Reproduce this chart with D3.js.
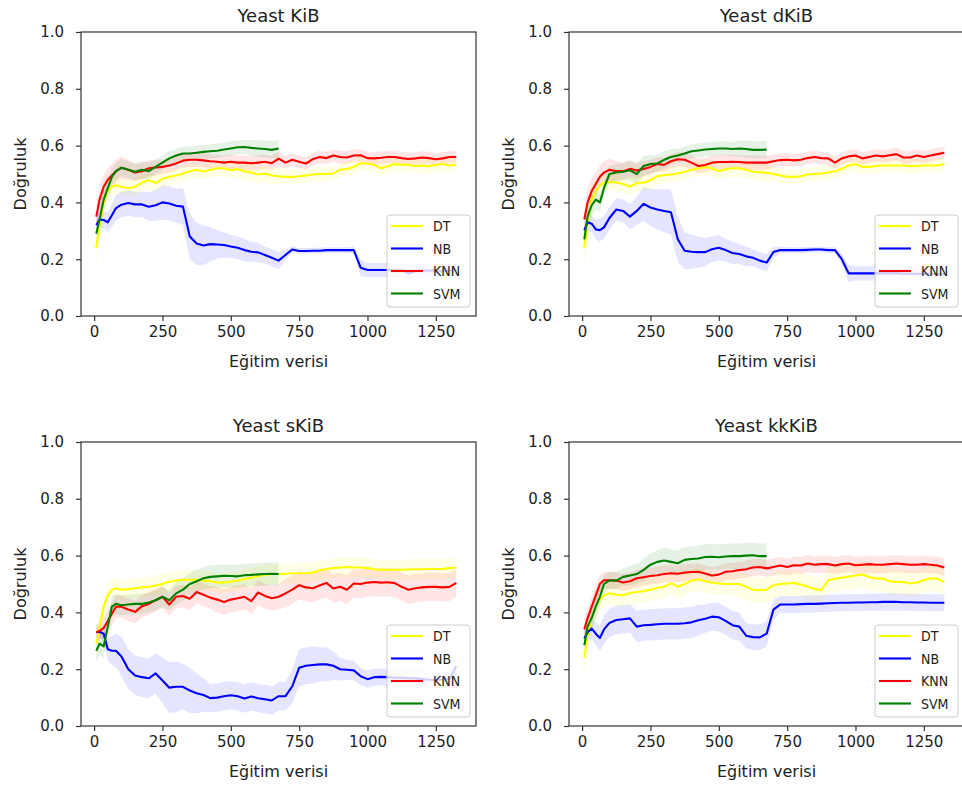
<!DOCTYPE html>
<html>
<head>
<meta charset="utf-8">
<script src="https://cdn.jsdelivr.net/npm/d3@7"></script>
<style>
  body { margin: 0; background: #fff; }
  svg text { font-family: "DejaVu Sans", sans-serif; fill: #222; }
  .lejant text { font-stretch: condensed; font-family: "DejaVu Sans Condensed", "DejaVu Sans", sans-serif; }
</style>
</head>
<body>
<svg id="grafik" width="962" height="789"></svg>
<script>
// eğitim verisi miktarı (x ekseni)
const egitim = [8, 20, 35, 50, 65, 80, 100, 125, 150, 175, 200, 225, 250, 275, 300, 325, 350, 375, 400, 425,
  450, 475, 500, 525, 550, 575, 600, 625, 650, 675, 700, 725, 750, 775, 800, 825, 850, 875, 900, 925,
  950, 975, 1000, 1025, 1050, 1075, 1100, 1125, 1150, 1175, 1200, 1225, 1250, 1275, 1300, 1325];

const modeller = ["DT", "NB", "KNN", "SVM"];
const renkler = ["#ffff00", "#0000ff", "#ff0000", "#008000"];
const basliklar = ["Yeast KiB", "Yeast dKiB", "Yeast sKiB", "Yeast kkKiB"];
const xTikler = [0, 250, 500, 750, 1000, 1250];
const yTikler = [0, 0.2, 0.4, 0.6, 0.8, 1.0];

// Yeast KiB
const kibDT = [0.24, 0.32, 0.40, 0.44, 0.455, 0.46,
  0.455, 0.45, 0.455, 0.47, 0.478, 0.468, 0.483, 0.49, 0.495, 0.502, 0.51, 0.515, 0.508, 0.515, 0.52, 0.52, 0.513, 0.518, 0.51, 0.505, 0.498, 0.502, 0.495, 0.492,
  0.49, 0.49, 0.492, 0.495, 0.498, 0.5, 0.5, 0.502, 0.515, 0.518, 0.525, 0.538, 0.537, 0.532, 0.52, 0.527, 0.535, 0.533, 0.532, 0.528, 0.53, 0.527, 0.532, 0.535, 0.53, 0.532];
const kibNB = [0.32, 0.34, 0.338, 0.33, 0.355, 0.38,
  0.392, 0.398, 0.393, 0.393, 0.385, 0.39, 0.4, 0.396, 0.388, 0.385, 0.28, 0.255, 0.248, 0.253, 0.252, 0.25, 0.245, 0.24, 0.232, 0.226, 0.224, 0.215, 0.205, 0.195,
  0.215, 0.234, 0.229, 0.229, 0.23, 0.23, 0.232, 0.232, 0.232, 0.232, 0.232, 0.17, 0.162, 0.162, 0.162, 0.162, 0.16, 0.162, 0.15, 0.158, 0.16, 0.16, 0.16, 0.158, 0.16, 0.16];
const kibKNN = [0.35, 0.41, 0.455, 0.48, 0.495, 0.51,
  0.522, 0.515, 0.505, 0.51, 0.52, 0.523, 0.525, 0.53, 0.537, 0.547, 0.55, 0.55, 0.548, 0.545, 0.543, 0.54, 0.543, 0.54, 0.54, 0.538, 0.54, 0.543, 0.538, 0.554,
  0.54, 0.55, 0.543, 0.537, 0.552, 0.56, 0.556, 0.565, 0.56, 0.558, 0.565, 0.566, 0.556, 0.555, 0.557, 0.56, 0.56, 0.556, 0.553, 0.555, 0.558, 0.556, 0.552, 0.555, 0.56, 0.56];
const kibSVM = [0.29, 0.34, 0.41, 0.45, 0.49, 0.51,
  0.522, 0.515, 0.508, 0.515, 0.51, 0.525, 0.54, 0.555, 0.565, 0.572, 0.572, 0.575, 0.578, 0.58, 0.582, 0.586, 0.59, 0.594, 0.595, 0.592, 0.59, 0.588, 0.585, 0.59];
const kibDTstd = [0.06, 0.05, 0.045, 0.04, 0.035, 0.03,
  0.03, 0.03, 0.03, 0.03, 0.03, 0.03, 0.03, 0.03, 0.028, 0.028, 0.028, 0.028, 0.028, 0.028, 0.028, 0.028, 0.028, 0.03, 0.03, 0.03, 0.03, 0.03, 0.03, 0.03,
  0.025, 0.025, 0.025, 0.025, 0.025, 0.025, 0.025, 0.025, 0.025, 0.025, 0.025, 0.025, 0.025, 0.025, 0.025, 0.025, 0.025, 0.025, 0.025, 0.025, 0.025, 0.025, 0.025, 0.025, 0.025, 0.025];
const kibNBstd = [0.03, 0.03, 0.03, 0.035, 0.04, 0.045,
  0.045, 0.045, 0.045, 0.045, 0.05, 0.055, 0.06, 0.06, 0.06, 0.065, 0.08, 0.075, 0.07, 0.06, 0.05, 0.045, 0.04, 0.04, 0.04, 0.035, 0.035, 0.03, 0.03, 0.03,
  0.02, 0.012, 0.01, 0.01, 0.01, 0.01, 0.01, 0.01, 0.01, 0.01, 0.012, 0.03, 0.025, 0.025, 0.025, 0.025, 0.025, 0.025, 0.025, 0.025, 0.025, 0.025, 0.025, 0.025, 0.025, 0.025];
const kibKNNstd = [0.04, 0.045, 0.045, 0.04, 0.04, 0.04,
  0.04, 0.035, 0.03, 0.03, 0.028, 0.028, 0.025, 0.025, 0.025, 0.025, 0.025, 0.025, 0.025, 0.025, 0.025, 0.025, 0.025, 0.025, 0.025, 0.025, 0.025, 0.025, 0.025, 0.025,
  0.022, 0.022, 0.022, 0.022, 0.022, 0.022, 0.022, 0.022, 0.022, 0.022, 0.022, 0.022, 0.022, 0.022, 0.022, 0.022, 0.022, 0.022, 0.022, 0.022, 0.022, 0.022, 0.022, 0.022, 0.022, 0.022];
const kibSVMstd = [0.04, 0.04, 0.04, 0.035, 0.03, 0.03,
  0.03, 0.03, 0.03, 0.03, 0.03, 0.025, 0.025, 0.025, 0.025, 0.025, 0.025, 0.025, 0.025, 0.025, 0.025, 0.025, 0.025, 0.025, 0.025, 0.028, 0.03, 0.03, 0.03, 0.03];

// Yeast dKiB
const dkibDT = [0.24, 0.33, 0.41, 0.44, 0.46, 0.47,
  0.472, 0.47, 0.465, 0.455, 0.468, 0.47, 0.478, 0.492, 0.496, 0.498, 0.502, 0.508, 0.515, 0.52, 0.525, 0.52, 0.51, 0.517, 0.52, 0.52, 0.515, 0.508, 0.506, 0.504,
  0.5, 0.495, 0.49, 0.49, 0.492, 0.498, 0.5, 0.502, 0.505, 0.51, 0.518, 0.53, 0.535, 0.525, 0.525, 0.528, 0.53, 0.53, 0.53, 0.53, 0.528, 0.528, 0.53, 0.53, 0.53, 0.535];
const dkibNB = [0.302, 0.33, 0.325, 0.305, 0.302, 0.312,
  0.345, 0.375, 0.37, 0.35, 0.37, 0.395, 0.382, 0.375, 0.37, 0.365, 0.27, 0.23, 0.226, 0.225, 0.225, 0.235, 0.24, 0.232, 0.222, 0.218, 0.21, 0.205, 0.195, 0.188,
  0.225, 0.232, 0.232, 0.232, 0.232, 0.233, 0.234, 0.234, 0.232, 0.232, 0.2, 0.15, 0.15, 0.15, 0.15, 0.15, 0.15, 0.15, 0.15, 0.149, 0.149, 0.149, 0.148, 0.148, 0.148, 0.148];
const dkibKNN = [0.34, 0.4, 0.44, 0.465, 0.49, 0.505,
  0.515, 0.51, 0.51, 0.518, 0.512, 0.518, 0.525, 0.535, 0.532, 0.545, 0.552, 0.55, 0.54, 0.528, 0.532, 0.54, 0.542, 0.542, 0.543, 0.542, 0.54, 0.54, 0.54, 0.54,
  0.545, 0.549, 0.55, 0.548, 0.55, 0.556, 0.56, 0.556, 0.555, 0.54, 0.555, 0.562, 0.565, 0.555, 0.56, 0.565, 0.562, 0.566, 0.57, 0.558, 0.558, 0.565, 0.56, 0.565, 0.57, 0.575];
const dkibSVM = [0.27, 0.35, 0.39, 0.41, 0.4, 0.45,
  0.5, 0.505, 0.508, 0.513, 0.5, 0.528, 0.535, 0.537, 0.55, 0.56, 0.565, 0.572, 0.58, 0.583, 0.586, 0.588, 0.59, 0.59, 0.588, 0.59, 0.588, 0.585, 0.585, 0.586];
const dkibDTstd = [0.06, 0.05, 0.045, 0.04, 0.035, 0.03,
  0.03, 0.03, 0.03, 0.03, 0.03, 0.03, 0.03, 0.03, 0.028, 0.028, 0.028, 0.028, 0.028, 0.028, 0.028, 0.028, 0.028, 0.03, 0.03, 0.03, 0.03, 0.03, 0.03, 0.03,
  0.025, 0.025, 0.025, 0.025, 0.025, 0.025, 0.025, 0.025, 0.025, 0.025, 0.025, 0.025, 0.025, 0.025, 0.025, 0.025, 0.025, 0.025, 0.025, 0.025, 0.025, 0.025, 0.025, 0.025, 0.025, 0.025];
const dkibNBstd = [0.03, 0.03, 0.03, 0.035, 0.04, 0.04,
  0.04, 0.04, 0.04, 0.045, 0.05, 0.06, 0.065, 0.07, 0.075, 0.08, 0.08, 0.065, 0.06, 0.055, 0.05, 0.045, 0.045, 0.04, 0.04, 0.035, 0.035, 0.03, 0.03, 0.03,
  0.02, 0.012, 0.01, 0.01, 0.01, 0.01, 0.01, 0.01, 0.01, 0.01, 0.02, 0.03, 0.025, 0.025, 0.025, 0.025, 0.025, 0.025, 0.025, 0.025, 0.025, 0.025, 0.025, 0.025, 0.025, 0.025];
const dkibKNNstd = [0.04, 0.045, 0.045, 0.04, 0.04, 0.04,
  0.04, 0.035, 0.03, 0.03, 0.028, 0.028, 0.025, 0.025, 0.025, 0.025, 0.025, 0.025, 0.025, 0.025, 0.025, 0.025, 0.025, 0.025, 0.025, 0.025, 0.025, 0.025, 0.025, 0.025,
  0.022, 0.022, 0.022, 0.022, 0.022, 0.022, 0.022, 0.022, 0.022, 0.022, 0.022, 0.022, 0.022, 0.022, 0.022, 0.022, 0.022, 0.022, 0.022, 0.022, 0.022, 0.022, 0.022, 0.022, 0.022, 0.022];
const dkibSVMstd = [0.04, 0.04, 0.04, 0.035, 0.03, 0.03,
  0.03, 0.03, 0.03, 0.035, 0.035, 0.035, 0.03, 0.03, 0.03, 0.028, 0.025, 0.025, 0.025, 0.025, 0.025, 0.025, 0.025, 0.025, 0.025, 0.028, 0.03, 0.03, 0.03, 0.03];

// Yeast sKiB
const skibDT = [0.29, 0.35, 0.42, 0.46, 0.48, 0.485,
  0.48, 0.482, 0.485, 0.488, 0.49, 0.495, 0.5, 0.508, 0.512, 0.515, 0.515, 0.515, 0.512, 0.51, 0.505, 0.505, 0.508, 0.512, 0.518, 0.522, 0.528, 0.532, 0.535, 0.535,
  0.536, 0.538, 0.538, 0.538, 0.54, 0.548, 0.553, 0.556, 0.558, 0.56, 0.558, 0.558, 0.556, 0.552, 0.55, 0.55, 0.55, 0.55, 0.551, 0.552, 0.552, 0.553, 0.553, 0.553, 0.556, 0.558];
const skibNB = [0.33, 0.332, 0.325, 0.27, 0.265, 0.265,
  0.245, 0.2, 0.178, 0.172, 0.168, 0.185, 0.16, 0.135, 0.138, 0.138, 0.125, 0.115, 0.109, 0.098, 0.1, 0.105, 0.108, 0.105, 0.097, 0.104, 0.098, 0.094, 0.09, 0.105,
  0.105, 0.14, 0.205, 0.212, 0.215, 0.217, 0.217, 0.212, 0.2, 0.198, 0.196, 0.175, 0.165, 0.172, 0.173, 0.172, 0.17, 0.17, 0.168, 0.168, 0.165, 0.163, 0.162, 0.163, 0.165, 0.21];
const skibKNN = [0.33, 0.335, 0.345, 0.37, 0.395, 0.42,
  0.42, 0.41, 0.402, 0.422, 0.43, 0.443, 0.455, 0.428, 0.455, 0.458, 0.448, 0.472, 0.462, 0.452, 0.445, 0.437, 0.445, 0.45, 0.455, 0.44, 0.47, 0.458, 0.45, 0.455,
  0.467, 0.48, 0.496, 0.488, 0.485, 0.495, 0.504, 0.484, 0.49, 0.48, 0.502, 0.5, 0.505, 0.507, 0.505, 0.506, 0.503, 0.49, 0.48, 0.485, 0.488, 0.49, 0.49, 0.488, 0.49, 0.504];
const skibSVM = [0.265, 0.29, 0.28, 0.35, 0.42, 0.43,
  0.425, 0.428, 0.43, 0.43, 0.435, 0.443, 0.455, 0.443, 0.467, 0.48, 0.5, 0.51, 0.52, 0.525, 0.527, 0.529, 0.528, 0.527, 0.531, 0.532, 0.534, 0.535, 0.536, 0.535];
const skibDTstd = [0.05, 0.05, 0.045, 0.04, 0.035, 0.035,
  0.035, 0.035, 0.035, 0.035, 0.035, 0.035, 0.035, 0.035, 0.035, 0.035, 0.035, 0.035, 0.035, 0.035, 0.035, 0.035, 0.035, 0.035, 0.035, 0.035, 0.035, 0.035, 0.035, 0.035,
  0.035, 0.035, 0.035, 0.035, 0.035, 0.035, 0.035, 0.035, 0.035, 0.035, 0.035, 0.035, 0.035, 0.035, 0.035, 0.035, 0.035, 0.035, 0.035, 0.035, 0.035, 0.035, 0.035, 0.035, 0.035, 0.035];
const skibNBstd = [0.02, 0.02, 0.03, 0.04, 0.05, 0.06,
  0.07, 0.07, 0.07, 0.07, 0.07, 0.07, 0.08, 0.09, 0.09, 0.08, 0.08, 0.07, 0.06, 0.05, 0.05, 0.05, 0.05, 0.05, 0.05, 0.05, 0.05, 0.05, 0.05, 0.05,
  0.05, 0.06, 0.065, 0.065, 0.065, 0.06, 0.06, 0.05, 0.04, 0.035, 0.035, 0.03, 0.03, 0.03, 0.03, 0.03, 0.03, 0.03, 0.03, 0.03, 0.03, 0.03, 0.03, 0.03, 0.03, 0.03];
const skibKNNstd = [0.03, 0.03, 0.035, 0.04, 0.04, 0.04,
  0.04, 0.04, 0.04, 0.04, 0.04, 0.04, 0.04, 0.04, 0.04, 0.04, 0.04, 0.04, 0.04, 0.04, 0.045, 0.045, 0.045, 0.045, 0.045, 0.045, 0.045, 0.045, 0.045, 0.045,
  0.05, 0.05, 0.05, 0.05, 0.05, 0.05, 0.05, 0.05, 0.05, 0.05, 0.05, 0.05, 0.05, 0.05, 0.05, 0.05, 0.05, 0.05, 0.05, 0.05, 0.05, 0.05, 0.05, 0.05, 0.05, 0.05];
const skibSVMstd = [0.04, 0.04, 0.04, 0.035, 0.035, 0.035,
  0.035, 0.035, 0.035, 0.035, 0.035, 0.035, 0.035, 0.035, 0.04, 0.04, 0.04, 0.04, 0.04, 0.04, 0.04, 0.04, 0.04, 0.04, 0.04, 0.04, 0.04, 0.04, 0.04, 0.04];

// Yeast kkKiB
const kkkibDT = [0.24, 0.32, 0.38, 0.42, 0.445, 0.46,
  0.467, 0.462, 0.46, 0.468, 0.472, 0.475, 0.48, 0.487, 0.49, 0.503, 0.49, 0.5, 0.512, 0.516, 0.51, 0.505, 0.502, 0.5, 0.5, 0.5, 0.49, 0.48, 0.478, 0.48,
  0.496, 0.5, 0.502, 0.504, 0.498, 0.49, 0.482, 0.478, 0.513, 0.518, 0.522, 0.526, 0.53, 0.534, 0.525, 0.519, 0.519, 0.51, 0.507, 0.507, 0.502, 0.505, 0.513, 0.52, 0.518, 0.507];
const kkkibNB = [0.308, 0.33, 0.343, 0.325, 0.31, 0.34,
  0.363, 0.373, 0.376, 0.379, 0.35, 0.355, 0.356, 0.358, 0.36, 0.36, 0.36, 0.362, 0.365, 0.372, 0.378, 0.385, 0.383, 0.37, 0.355, 0.35, 0.318, 0.313, 0.312, 0.325,
  0.41, 0.428, 0.428, 0.428, 0.429, 0.43, 0.43, 0.431, 0.432, 0.433, 0.434, 0.434, 0.435, 0.435, 0.436, 0.436, 0.437, 0.437, 0.437, 0.436, 0.436, 0.435, 0.435, 0.434, 0.434, 0.434];
const kkkibKNN = [0.34, 0.38, 0.42, 0.46, 0.5, 0.513,
  0.513, 0.512, 0.505, 0.51, 0.52, 0.524, 0.528, 0.531, 0.535, 0.538, 0.536, 0.54, 0.542, 0.543, 0.537, 0.53, 0.533, 0.543, 0.545, 0.549, 0.552, 0.558, 0.56, 0.555,
  0.56, 0.565, 0.56, 0.566, 0.565, 0.572, 0.568, 0.57, 0.57, 0.565, 0.57, 0.572, 0.566, 0.568, 0.57, 0.568, 0.568, 0.57, 0.572, 0.57, 0.568, 0.568, 0.57, 0.568, 0.565, 0.558];
const kkkibSVM = [0.285, 0.35, 0.38, 0.42, 0.455, 0.5,
  0.513, 0.512, 0.525, 0.53, 0.535, 0.55, 0.568, 0.578, 0.583, 0.578, 0.573, 0.585, 0.588, 0.59, 0.595, 0.596, 0.594, 0.597, 0.598, 0.598, 0.6, 0.601, 0.598, 0.598];
const kkkibDTstd = [0.07, 0.06, 0.05, 0.045, 0.04, 0.04,
  0.04, 0.04, 0.04, 0.04, 0.04, 0.04, 0.04, 0.04, 0.04, 0.04, 0.04, 0.04, 0.04, 0.04, 0.04, 0.04, 0.04, 0.04, 0.04, 0.045, 0.045, 0.045, 0.045, 0.045,
  0.045, 0.045, 0.045, 0.045, 0.045, 0.045, 0.045, 0.045, 0.045, 0.045, 0.045, 0.045, 0.045, 0.045, 0.045, 0.045, 0.045, 0.045, 0.045, 0.045, 0.045, 0.045, 0.045, 0.045, 0.045, 0.045];
const kkkibNBstd = [0.03, 0.03, 0.035, 0.04, 0.045, 0.05,
  0.05, 0.05, 0.05, 0.05, 0.055, 0.055, 0.055, 0.055, 0.055, 0.055, 0.055, 0.055, 0.055, 0.055, 0.05, 0.05, 0.05, 0.05, 0.05, 0.05, 0.045, 0.045, 0.045, 0.045,
  0.035, 0.03, 0.03, 0.03, 0.03, 0.03, 0.03, 0.03, 0.03, 0.03, 0.03, 0.03, 0.03, 0.03, 0.03, 0.03, 0.03, 0.03, 0.03, 0.03, 0.03, 0.03, 0.03, 0.03, 0.03, 0.03];
const kkkibKNNstd = [0.035, 0.035, 0.035, 0.035, 0.03, 0.03,
  0.03, 0.03, 0.03, 0.03, 0.03, 0.03, 0.03, 0.03, 0.03, 0.03, 0.03, 0.03, 0.03, 0.03, 0.03, 0.03, 0.03, 0.03, 0.03, 0.03, 0.03, 0.03, 0.03, 0.03,
  0.03, 0.03, 0.03, 0.03, 0.03, 0.03, 0.03, 0.03, 0.03, 0.03, 0.03, 0.03, 0.03, 0.03, 0.03, 0.03, 0.03, 0.03, 0.03, 0.03, 0.03, 0.03, 0.03, 0.03, 0.03, 0.03];
const kkkibSVMstd = [0.04, 0.04, 0.04, 0.04, 0.035, 0.03,
  0.03, 0.03, 0.03, 0.035, 0.035, 0.04, 0.04, 0.04, 0.045, 0.045, 0.045, 0.045, 0.045, 0.045, 0.045, 0.045, 0.045, 0.045, 0.045, 0.045, 0.045, 0.045, 0.045, 0.045];

// panel tablosu
const paneller = [
  { baslik: basliklar[0], ort: [kibDT, kibNB, kibKNN, kibSVM], std: [kibDTstd, kibNBstd, kibKNNstd, kibSVMstd] },
  { baslik: basliklar[1], ort: [dkibDT, dkibNB, dkibKNN, dkibSVM], std: [dkibDTstd, dkibNBstd, dkibKNNstd, dkibSVMstd] },
  { baslik: basliklar[2], ort: [skibDT, skibNB, skibKNN, skibSVM], std: [skibDTstd, skibNBstd, skibKNNstd, skibSVMstd] },
  { baslik: basliklar[3], ort: [kkkibDT, kkkibNB, kkkibKNN, kkkibSVM], std: [kkkibDTstd, kkkibNBstd, kkkibKNNstd, kkkibSVMstd] }
];

const yerlesim = [
  { x: 81, y: 32 }, { x: 569, y: 32 },
  { x: 81, y: 442 }, { x: 569, y: 442 }
];
const alanW = 395, alanH = 284;

const svg = d3.select("#grafik");

function cizPanel(panel, konum, i) {
  let g = svg.append("g");

  let scX = d3.scaleLinear().domain([-48, 1397]).range([konum.x, konum.x + alanW]);
  let scY = d3.scaleLinear().domain([0, 1]).range([konum.y + alanH, konum.y]);

  // kırpma alanı
  g.append("clipPath").attr("id", "kirp" + i)
    .append("rect")
    .attr("x", konum.x).attr("y", konum.y)
    .attr("width", alanW).attr("height", alanH);

  let icerik = g.append("g").attr("clip-path", `url(#kirp${i})`);

  // std bantları
  panel.ort.forEach((ort, k) => {
    let std = panel.std[k];
    let noktalar = ort.map((v, j) => ({ x: egitim[j], m: v, s: std[j] }));
    let alan = d3.area()
      .x(d => scX(d.x))
      .y0(d => scY(d.m - d.s))
      .y1(d => scY(d.m + d.s));
    icerik.append("path")
      .attr("d", alan(noktalar))
      .attr("fill", renkler[k])
      .attr("fill-opacity", 0.1);
  });

  // ortalama çizgileri
  panel.ort.forEach((ort, k) => {
    let noktalar = ort.map((v, j) => ({ x: egitim[j], m: v }));
    let cizgi = d3.line().x(d => scX(d.x)).y(d => scY(d.m));
    icerik.append("path")
      .attr("d", cizgi(noktalar))
      .attr("fill", "none")
      .attr("stroke", renkler[k])
      .attr("stroke-width", 2.1)
      .attr("stroke-linejoin", "round");
  });

  // eksenler
  let eksenX = g.append("g")
    .attr("transform", `translate(0, ${konum.y + alanH})`)
    .call(d3.axisBottom(scX).tickValues(xTikler).tickSize(5).tickPadding(5).tickFormat(d3.format("d")));
  let eksenY = g.append("g")
    .attr("transform", `translate(${konum.x}, 0)`)
    .call(d3.axisLeft(scY).tickValues(yTikler).tickSize(5).tickPadding(12).tickFormat(d3.format(".1f")));

  [eksenX, eksenY].forEach(e => {
    e.select(".domain").remove();
    e.selectAll("line").attr("stroke", "#333").attr("stroke-width", 1.2);
    e.selectAll("text").attr("fill", "#222").style("font-size", "15px")
      .style("font-family", "'DejaVu Sans', sans-serif");
  });

  // çerçeve
  g.append("rect")
    .attr("x", konum.x).attr("y", konum.y)
    .attr("width", alanW).attr("height", alanH)
    .attr("fill", "none").attr("stroke", "#333").attr("stroke-width", 1.2);

  // başlık ve etiketler
  g.append("text")
    .attr("x", konum.x + alanW / 2).attr("y", konum.y - 10)
    .attr("text-anchor", "middle").style("font-size", "18px")
    .text(panel.baslik);
  g.append("text")
    .attr("x", konum.x + alanW / 2).attr("y", konum.y + alanH + 51)
    .attr("text-anchor", "middle").style("font-size", "16px")
    .text("Eğitim verisi");
  g.append("text")
    .attr("transform", `translate(${konum.x - 55}, ${konum.y + alanH / 2}) rotate(-90)`)
    .attr("text-anchor", "middle").style("font-size", "16px")
    .text("Doğruluk");

  // lejant
  let lx = konum.x + alanW - 89, ly = konum.y + alanH - 101;
  let lejant = g.append("g").attr("class", "lejant");
  lejant.append("rect")
    .attr("x", lx).attr("y", ly).attr("width", 83).attr("height", 92)
    .attr("rx", 3).attr("fill", "#fff").attr("fill-opacity", 0.8)
    .attr("stroke", "#ccc").attr("stroke-width", 1);
  modeller.forEach((m, k) => {
    let yy = ly + 11 + k * 22.5;
    lejant.append("line")
      .attr("x1", lx + 4).attr("x2", lx + 36)
      .attr("y1", yy).attr("y2", yy)
      .attr("stroke", renkler[k]).attr("stroke-width", 2.1);
    lejant.append("text")
      .attr("x", lx + 46).attr("y", yy + 5)
      .style("font-size", "14px")
      .text(m);
  });
}

paneller.forEach((p, i) => cizPanel(p, yerlesim[i], i));
</script>
</body>
</html>
